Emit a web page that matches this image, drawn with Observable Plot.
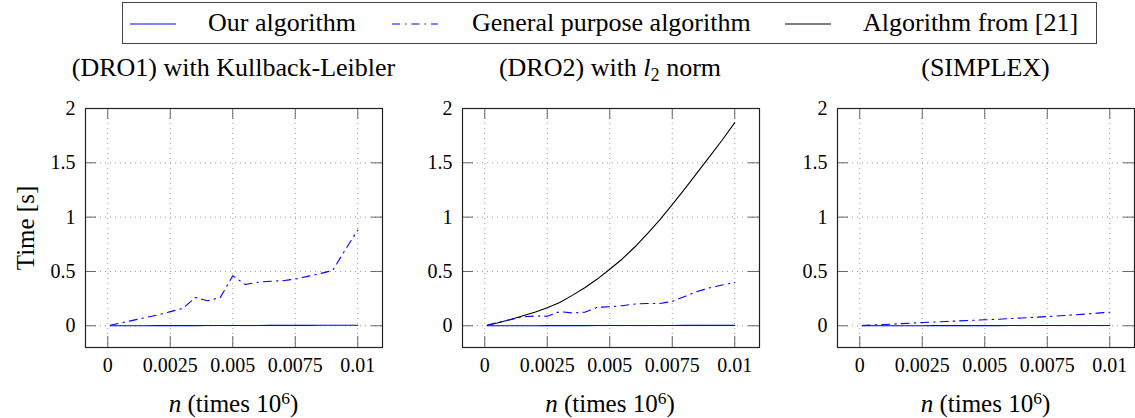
<!DOCTYPE html>
<html>
<head>
<meta charset="utf-8">
<script src="https://cdn.jsdelivr.net/npm/d3@7"></script>
<script src="https://cdn.jsdelivr.net/npm/@observablehq/plot@0.6"></script>
<style>
  html, body { margin: 0; padding: 0; background: #fff; overflow: hidden; }
  #root { position: relative; width: 1135px; height: 418px; font-family: 'Liberation Serif', 'Times New Roman', serif; color: #000; }
  .abs { position: absolute; white-space: nowrap; line-height: 1; font-family: 'Liberation Serif', 'Times New Roman', serif; }
  .panel { position: absolute; top: 0; }
  .sup { position: relative; top: -0.45em; font-size: 0.7em; }
  .sub { position: relative; top: 0.28em; font-size: 0.7em; }
</style>
</head>
<body>
<div id="root"></div>
<script>
// ---------- data ----------
const n = [0.0001, 0.0005, 0.001, 0.0015, 0.002, 0.0025, 0.003, 0.0035, 0.004, 0.0045, 0.005,
           0.0055, 0.006, 0.0065, 0.007, 0.0075, 0.008, 0.0085, 0.009, 0.0095, 0.01];

const ourDRO1 = [0.0002, 0.0004, 0.0006, 0.0009, 0.0011, 0.0013, 0.0016, 0.0018, 0.0021, 0.0023, 0.0025,
                 0.0028, 0.0030, 0.0033, 0.0035, 0.0038, 0.0040, 0.0043, 0.0046, 0.0048, 0.0051];
const generalDRO1 = [0.005, 0.025, 0.05, 0.075, 0.1, 0.13, 0.16, 0.26, 0.23, 0.26, 0.46,
                     0.38, 0.40, 0.41, 0.415, 0.43, 0.455, 0.48, 0.51, 0.70, 0.88];

const ourDRO2 = [0.0002, 0.0003, 0.0005, 0.0007, 0.0009, 0.0011, 0.0013, 0.0015, 0.0017, 0.0019, 0.0021,
                 0.0023, 0.0025, 0.0027, 0.0029, 0.0031, 0.0033, 0.0035, 0.0037, 0.0039, 0.0041];
const generalDRO2 = [0.005, 0.03, 0.055, 0.08, 0.09, 0.088, 0.13, 0.118, 0.125, 0.17, 0.175,
                     0.185, 0.2, 0.205, 0.205, 0.225, 0.27, 0.315, 0.35, 0.375, 0.4];
const refDRO2 = [0.004, 0.025, 0.055, 0.09, 0.125, 0.165, 0.215, 0.28, 0.35, 0.43, 0.52,
                 0.615, 0.725, 0.845, 0.975, 1.115, 1.26, 1.41, 1.56, 1.71, 1.87];

const ourSimplex = [0.0001, 0.0002, 0.0004, 0.0005, 0.0007, 0.0008, 0.0010, 0.0011, 0.0013, 0.0014, 0.0016,
                    0.0017, 0.0019, 0.0020, 0.0022, 0.0023, 0.0025, 0.0026, 0.0028, 0.0029, 0.0031];
const generalSimplex = [0.002, 0.007, 0.012, 0.018, 0.024, 0.03, 0.035, 0.04, 0.045, 0.05, 0.055,
                        0.06, 0.066, 0.072, 0.078, 0.085, 0.092, 0.099, 0.107, 0.116, 0.125];

const xTicks = [0, 0.0025, 0.005, 0.0075, 0.01];
const yTicks = [0, 0.5, 1, 1.5, 2];
const seriesNames = ["Our algorithm", "General purpose algorithm", "Algorithm from [21]"];
const panelTitles = ["(DRO1) with Kullback-Leibler", "(DRO2) with <i>l</i><span class=\"sub\">2</span> norm", "(SIMPLEX)"];
const xLabel = "<i>n</i> (times 10<span class=\"sup\">6</span>)";
const yLabel = "Time [s]";

// ---------- styles ----------
const FONT = "'Liberation Serif', 'Times New Roman', serif";
const BLUE = "#0000ff";
const DASHDOT = "8,5,1.5,5";
const styles = [
  {stroke: BLUE, strokeWidth: 1.1},
  {stroke: BLUE, strokeWidth: 1.1, strokeDasharray: DASHDOT},
  {stroke: "#000", strokeWidth: 1.1}
];

const panels = [
  {frameLeft: 85, series: [ourDRO1, generalDRO1, null]},
  {frameLeft: 461.5, series: [ourDRO2, generalDRO2, refDRO2]},
  {frameLeft: 837, series: [ourSimplex, generalSimplex, null]}
];

const root = document.getElementById("root");
const W = 1135, H = 418;
const marginLeft = 60, marginRight = 1, marginTop = 108, marginBottom = 71;
const frameW = 297, frameH = H - marginTop - marginBottom;
const TICK = 11;

function textDiv(html, size, left, top, transform) {
  const d = document.createElement("div");
  d.className = "abs";
  d.style.fontFamily = FONT;
  d.style.fontSize = size + "px";
  d.style.left = left + "px";
  d.style.top = top + "px";
  if (transform) d.style.transform = transform;
  d.innerHTML = html;
  root.appendChild(d);
  return d;
}

panels.forEach((p, pi) => {
  const lineMarks = [];
  [2, 1, 0].forEach(si => {
    const vals = p.series[si];
    if (!vals) return;
    const rows = n.map((x, i) => ({x, y: vals[i]}));
    lineMarks.push(Plot.line(rows, {x: "x", y: "y", ...styles[si]}));
  });
  const plot = Plot.plot({
    width: marginLeft + frameW + marginRight,
    height: H,
    marginLeft, marginRight, marginTop, marginBottom,
    style: {fontFamily: FONT, fontSize: "20px", background: "transparent", color: "#000", overflow: "visible"},
    x: {domain: [-0.00089, 0.01099], label: null},
    y: {domain: [-0.2, 2], label: null},
    marks: [
      Plot.gridX(xTicks, {stroke: "#9a9a9a", strokeOpacity: 1, strokeDasharray: "1,4", strokeWidth: 1}),
      Plot.gridY(yTicks, {stroke: "#9a9a9a", strokeOpacity: 1, strokeDasharray: "1,4", strokeWidth: 1}),
      Plot.ruleX(xTicks, {stroke: "#666", strokeWidth: 1, insetTop: frameH - TICK}),
      Plot.ruleX(xTicks, {stroke: "#666", strokeWidth: 1, insetBottom: frameH - TICK}),
      Plot.ruleY(yTicks, {stroke: "#666", strokeWidth: 1, insetRight: frameW - TICK}),
      Plot.ruleY(yTicks, {stroke: "#666", strokeWidth: 1, insetLeft: frameW - TICK}),
      Plot.axisX(xTicks, {tickSize: 0, tickPadding: 10, tickFormat: d => String(d), label: null}),
      Plot.axisY(yTicks, {tickSize: 0, tickPadding: 10, tickFormat: d => String(d), label: null}),
      ...lineMarks,
      Plot.frame({stroke: "#222", strokeWidth: 1.2})
    ]
  });
  plot.setAttribute("font-family", FONT);
  const wrap = document.createElement("div");
  wrap.className = "panel";
  wrap.style.left = (p.frameLeft - marginLeft) + "px";
  wrap.appendChild(plot);
  root.appendChild(wrap);

  const cx = p.frameLeft + frameW / 2;
  textDiv(panelTitles[pi], 26, cx, 77 - 0.8375 * 26, "translateX(-50%)");
  textDiv(xLabel, 25, cx, 412 - 0.8375 * 25, "translateX(-50%)");
});

// y label
textDiv(yLabel, 25, 25, 228, "translate(-50%,-50%) rotate(-90deg)");

// legend
const legend = document.createElement("div");
Object.assign(legend.style, {position: "absolute", left: "122px", top: "2px", width: "975px", height: "42px", border: "1.3px solid #444", boxSizing: "border-box"});
root.appendChild(legend);
const legendItems = [
  {sample: 130, text: 208},
  {sample: 392, text: 472},
  {sample: 785, text: 863}
];
legendItems.forEach((it, i) => {
  const svg = d3.select(root).append("svg")
    .style("position", "absolute")
    .style("left", it.sample + "px").style("top", "18px")
    .attr("width", 46).attr("height", 12);
  const st = styles[i];
  svg.append("line").attr("x1", 0).attr("x2", 46).attr("y1", 6).attr("y2", 6)
    .attr("stroke", st.stroke).attr("stroke-width", st.strokeWidth)
    .attr("stroke-dasharray", st.strokeDasharray || null);
  textDiv(seriesNames[i], 26, it.text, 32 - 0.8375 * 26);
});
</script>
</body>
</html>
